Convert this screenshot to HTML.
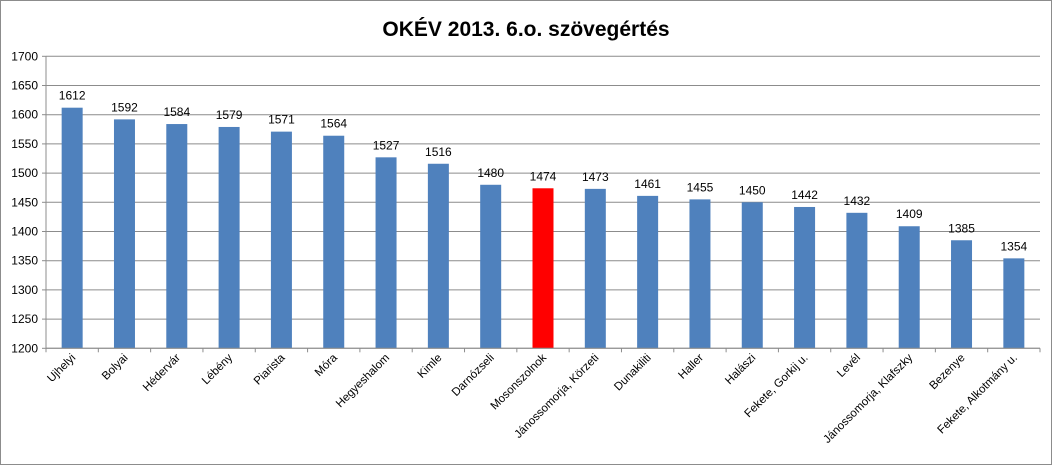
<!DOCTYPE html>
<html><head><meta charset="utf-8"><style>
html,body{margin:0;padding:0;background:#fff;}
svg{display:block;font-family:"Liberation Sans",Arial,sans-serif;}
</style></head><body>
<svg id="chart" width="1052" height="465" viewBox="0 0 1052 465">
<rect x="0.5" y="0.5" width="1051" height="464" fill="#fff" stroke="#8c8c8c"/>
<text x="526" y="36" text-anchor="middle" font-size="21" font-weight="bold" fill="#000">OKÉV 2013. 6.o. szövegértés</text>
<g id="grid"></g><g id="bars"></g><g id="labels"></g><g id="axes"></g>
</svg>
<script>
const categories=["Ujhelyi","Bolyai","Hédervár","Lébény","Piarista","Móra","Hegyeshalom","Kimle","Darnózseli","Mosonszolnok","Jánossomorja, Körzeti","Dunakiliti","Haller","Halászi","Fekete, Gorkij u.","Levél","Jánossomorja, Klafszky","Bezenye","Fekete, Alkotmány u."];
const values=[1612,1592,1584,1579,1571,1564,1527,1516,1480,1474,1473,1461,1455,1450,1442,1432,1409,1385,1354];
const highlight=["Mosonszolnok"];
const yTicks=[1200,1250,1300,1350,1400,1450,1500,1550,1600,1650,1700];
const NS="http://www.w3.org/2000/svg";
const L=46,R=1040,T=56.3,B=348.3,yMin=1200,yMax=1700;
const bw=(R-L)/categories.length;
const y=v=>B-(v-yMin)/(yMax-yMin)*(B-T);
const x=i=>L+bw*i+bw/2;
function mk(t,a,p){const e=document.createElementNS(NS,t);for(const k in a)e.setAttribute(k,a[k]);p.appendChild(e);return e;}
const grid=document.getElementById('grid'),bars=document.getElementById('bars'),labels=document.getElementById('labels'),axes=document.getElementById('axes');
yTicks.forEach(v=>{
 const g=mk('line',{x1:L,x2:R,y1:y(v),y2:y(v),stroke:'#8c8c8c','stroke-width':1},grid);
 
 
 mk('line',{x1:L-4,x2:L,y1:y(v),y2:y(v),stroke:'#8c8c8c'},axes);
 const t=mk('text',{x:L-8,y:y(v)+4,'text-anchor':'end','font-size':12,fill:'#000'},axes);
 t.textContent=v;
 
 
});
mk('line',{x1:L,x2:L,y1:T,y2:B,stroke:'#8c8c8c'},axes);
mk('line',{x1:L,x2:R,y1:B,y2:B,stroke:'#8c8c8c'},axes);
for(let i=0;i<=categories.length;i++)mk('line',{x1:L+bw*i,x2:L+bw*i,y1:B,y2:B+4,stroke:'#8c8c8c'},axes);
categories.forEach((c,i)=>{
 const v=values[i];
 const r=mk('rect',{x:x(i)-10.5,y:y(v),width:21,height:B-y(v),fill:highlight.includes(c)?'#ff0000':'#4f81bd'},bars);
 
 
 const t=mk('text',{x:x(i),y:y(v)-8,'text-anchor':'middle','font-size':12,fill:'#000'},labels);
 t.textContent=v;
 
 
 const cx=x(i)+4,cy=B+10;
 const ct=mk('text',{x:cx,y:cy,'text-anchor':'end','font-size':11.5,fill:'#000',transform:`rotate(-45 ${cx} ${cy})`},labels);
 ct.textContent=c;
 
 
});
</script>
</body></html>
